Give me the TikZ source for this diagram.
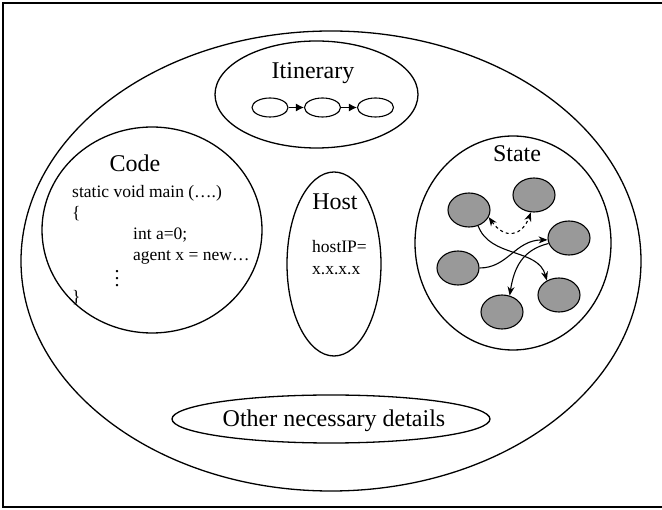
\documentclass[tikz,border=0pt]{standalone}
\usepackage{fontspec}
\setmainfont{Liberation Serif}
\usetikzlibrary{shapes.geometric,arrows.meta}

\begin{document}
\begin{tikzpicture}[x=1pt,y=-1pt,
  oval/.style={ellipse, draw, line width=1.3pt, inner sep=0pt},
  stateball/.style={ellipse, draw, line width=1.1pt, fill=black!40,
    minimum width=42pt, minimum height=34pt, inner sep=0pt},
  stop/.style={ellipse, draw, line width=1.1pt, minimum width=36pt,
    minimum height=19pt, inner sep=0pt},
  title/.style={font=\fontsize{24}{28}\selectfont, anchor=base, inner sep=0pt},
  codeline/.style={font=\fontsize{17.5}{21}\selectfont, anchor=base west, inner sep=0pt},
  hop/.style={line width=1.2pt, -{Latex[length=8pt,width=8pt]}},
  flow/.style={line width=1.1pt, -{Stealth[length=9pt,width=7pt]}}]

\useasboundingbox (0,0) rectangle (662,510);
% frame (its right side runs past the page edge)
\draw[line width=1.3pt] (664,3) -- (3,3) -- (3,507) -- (664,507);

% the agent as a whole
\node[oval, minimum width=620pt, minimum height=460pt] (agent) at (331,261) {};

% itinerary
\node[oval, minimum width=203pt, minimum height=107pt] (itin) at (316.5,94.5) {};
\node[title] (itinlbl) at (313,79) {Itinerary};
\node[stop] (s1) at (270,107.5) {};
\node[stop] (s2) at (322.5,107.5) {};
\node[stop] (s3) at (375.5,107.5) {};
\draw[hop] (s1) -- (s2);
\draw[hop] (s2) -- (s3);

% code
\node[oval, minimum width=220pt, minimum height=206pt] (code) at (152,230) {};
\node[title] (codelbl) at (135,172) {Code};
\node[codeline] (c1) at (72,198) {static void main (….)};
\node[codeline] (c2) at (72,219) {\{};
\node[codeline] (c3) at (133,240) {int a=0;};
\node[codeline] (c4) at (133,261) {agent x = new…};
\node[font=\fontsize{20}{7}\selectfont, align=center, inner sep=0pt,
  anchor=base] (c5) at (117,287) {.\\.\\.};
\node[codeline] (c6) at (72,303) {\}};

% host
\node[oval, minimum width=94pt, minimum height=184pt] (host) at (334,264) {};
\node[title] (hostlbl) at (335,210) {Host};
\node[codeline] (h1) at (312,253) {hostIP=};
\node[codeline] (h2) at (312,275) {x.x.x.x};

% state
\node[oval, minimum width=196pt, minimum height=214pt] (state) at (513,243) {};
\node[title] (statelbl) at (517,162) {State};
\node[stateball] (sA) at (469,210) {};
\node[stateball] (sB) at (534,195) {};
\node[stateball] (sC) at (569,238) {};
\node[stateball] (sD) at (458,268) {};
\node[stateball] (sE) at (559,295) {};
\node[stateball] (sF) at (502,312) {};
\draw[line width=1.1pt, dashed, {Stealth[length=9pt,width=7pt]}-{Stealth[length=9pt,width=7pt]}]
  (sA.-20) .. controls (505,240) and (522,236) .. (sB.-100);
\draw[flow] (sA.-60) .. controls (490,258) and (538,248) .. (sE.130);
\draw[flow] (sD.0) .. controls (508,268) and (515,240) .. (sC.185);
\draw[flow] (sC.195) .. controls (522,250) and (514,268) .. (sF.65);

% other details
\node[oval, minimum width=318pt, minimum height=48pt] (other) at (331,419) {};
\node[title] (otherlbl) at (334,427) {Other necessary details};
\end{tikzpicture}
\end{document}
